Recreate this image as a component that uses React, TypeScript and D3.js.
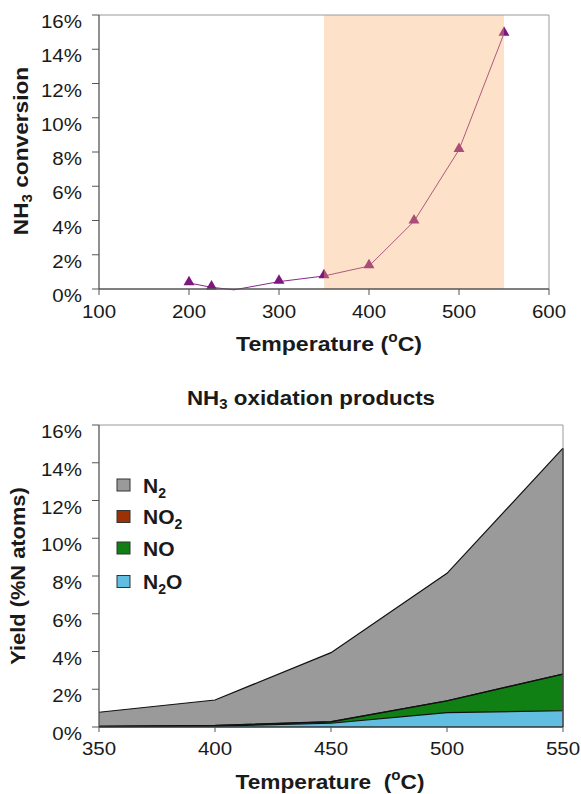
import React from "react";
import * as d3 from "d3";

// NH3 conversion vs temperature (upper panel)
const convTemps = [200, 225, 250, 300, 350, 400, 450, 500, 550];
const convValues = [0.35, 0.1, -0.05, 0.43, 0.76, 1.34, 3.95, 8.13, 14.92];
const convXTicks = [100, 200, 300, 400, 500, 600];
const pctTicks = [0, 2, 4, 6, 8, 10, 12, 14, 16];
const windowRange = [350, 550];

// Oxidation product yields (lower panel), % N atoms
const prodTemps = [350, 400, 450, 500, 550];
const n2oYield = [0.02, 0.05, 0.2, 0.76, 0.86];
const noYield = [0.01, 0.03, 0.07, 0.62, 1.94];
const no2Yield = [0.01, 0.01, 0.01, 0.01, 0.01];
const n2Yield = [0.74, 1.34, 3.66, 6.75, 11.96];
const prodXTicks = [350, 400, 450, 500, 550];

const FONT = "'Liberation Sans', Arial, Helvetica, sans-serif";
const INK = "#1a1a1a";

const seriesKeys = ["N2O", "NO", "NO2", "N2"];
const seriesColors: Record<string, string> = {
  N2O: "#62bee1",
  NO: "#108014",
  NO2: "#9a3205",
  N2: "#9a9a9a",
};

type TProps = {
  x: number;
  y: number;
  size: number;
  anchor?: string;
  bold?: boolean;
  sx?: number;
  rotate?: number;
  children: React.ReactNode;
};

function T({ x, y, size, anchor = "start", bold = false, sx = 1, rotate = 0, children }: TProps) {
  return (
    <text
      transform={`translate(${x},${y}) rotate(${rotate}) scale(${sx},1)`}
      fontFamily={FONT}
      fontSize={size}
      fontWeight={bold ? "bold" : "normal"}
      textAnchor={anchor}
      fill={INK}
    >
      {children}
    </text>
  );
}

export default function App() {
  // upper panel scales
  const xT = d3.scaleLinear().domain([100, 600]).range([99, 549]);
  const yT = d3.scaleLinear().domain([0, 16]).range([289, 15]);

  // lower panel scales
  const xB = d3.scaleLinear().domain([350, 550]).range([99, 563]);
  const yB = d3.scaleLinear().domain([0, 16]).range([727, 425]);

  const convPts = convTemps.map((t, i) => ({ t, v: convValues[i] }));
  const convLine = d3
    .line<{ t: number; v: number }>()
    .x((d) => xT(d.t))
    .y((d) => yT(d.v))(convPts) as string;

  const tri = d3.symbol().type(d3.symbolTriangle).size(52)() as string;

  const rows = prodTemps.map((t, i) => ({
    t,
    N2O: n2oYield[i],
    NO: noYield[i],
    NO2: no2Yield[i],
    N2: n2Yield[i],
  }));
  const stacked = d3.stack<any>().keys(seriesKeys)(rows);
  const area = d3
    .area<any>()
    .x((d) => xB(d.data.t))
    .y0((d) => yB(d[0]))
    .y1((d) => yB(d[1]));
  const topLine = d3
    .line<any>()
    .x((d) => xB(d.data.t))
    .y((d) => yB(d[1]));

  const legendItems = [
    { key: "N2", label: "N", sub: "2", tail: "" },
    { key: "NO2", label: "NO", sub: "2", tail: "" },
    { key: "NO", label: "NO", sub: "", tail: "" },
    { key: "N2O", label: "N", sub: "2", tail: "O" },
  ];
  const legendY = [485, 516.5, 548, 581.5];

  return (
    <svg
      width={581}
      height={794}
      style={{ display: "block", position: "absolute", left: 0, top: 0 }}
    >
      {/* ---------- upper panel ---------- */}
      <path d={convLine} fill="none" stroke="#862a8a" strokeWidth={1} />
      {convPts
        .filter((d) => d.v >= 0 && d.v <= 16)
        .map((d, i) => (
          <path
            key={i}
            d={tri}
            transform={`translate(${xT(d.t)},${yT(d.v) - 1})`}
            fill="#7e167f"
          />
        ))}
      <rect
        x={xT(windowRange[0])}
        y={yT(16)}
        width={xT(windowRange[1]) - xT(windowRange[0])}
        height={yT(0) - yT(16)}
        fill="rgb(249,176,104)"
        fillOpacity={0.36}
      />
      {/* frame */}
      <line x1={xT(100)} x2={xT(600)} y1={yT(16)} y2={yT(16)} stroke="#9a9a9a" />
      <line x1={xT(600)} x2={xT(600)} y1={yT(16)} y2={yT(0)} stroke="#9a9a9a" />
      <line x1={xT(100)} x2={xT(100)} y1={yT(16)} y2={yT(0)} stroke="#555" strokeWidth={1.3} />
      <line x1={xT(100)} x2={xT(600)} y1={yT(0)} y2={yT(0)} stroke="#555" strokeWidth={1.3} />
      {pctTicks.map((v) => (
        <g key={"ty" + v}>
          <line x1={xT(100) - 7} x2={xT(100)} y1={yT(v)} y2={yT(v)} stroke="#555" />
          <T x={82} y={yT(v) + 13} size={18} anchor="end" sx={1.14}>
            {v}%
          </T>
        </g>
      ))}
      {convXTicks.map((v) => (
        <g key={"tx" + v}>
          <line x1={xT(v)} x2={xT(v)} y1={yT(0)} y2={yT(0) + 6} stroke="#555" />
          <T x={xT(v)} y={318} size={18} anchor="middle" sx={1.14}>
            {v}
          </T>
        </g>
      ))}
      <T x={28} y={151} size={21} bold anchor="middle" rotate={-90} sx={1.08}>
        NH
        <tspan fontSize={14} dy={4}>
          3
        </tspan>
        <tspan dy={-4}> conversion</tspan>
      </T>
      <T x={329} y={351} size={21} bold anchor="middle" sx={1.1}>
        Temperature (
        <tspan fontSize={14} dy={-9}>
          o
        </tspan>
        <tspan dy={9}>C)</tspan>
      </T>

      {/* ---------- lower panel ---------- */}
      <T x={311} y={405} size={21} bold anchor="middle" sx={1.065}>
        NH
        <tspan fontSize={14} dy={4}>
          3
        </tspan>
        <tspan dy={-4}> oxidation products</tspan>
      </T>
      {stacked.map((s) => (
        <path key={s.key} d={area(s) as string} fill={seriesColors[s.key]} />
      ))}
      {stacked.map((s) => (
        <path
          key={"l" + s.key}
          d={topLine(s) as string}
          fill="none"
          stroke="#111"
          strokeWidth={1.2}
        />
      ))}
      <line x1={xB(550)} x2={xB(550)} y1={yB(16)} y2={yB(0)} stroke="#9a9a9a" />
      <line
        x1={xB(550)}
        x2={xB(550)}
        y1={yB(stacked[stacked.length - 1][4][1])}
        y2={yB(0)}
        stroke="#333"
        strokeWidth={1.3}
      />
      <line x1={xB(350)} x2={xB(550)} y1={yB(16)} y2={yB(16)} stroke="#9a9a9a" />
      <line x1={xB(350)} x2={xB(350)} y1={yB(16)} y2={yB(0)} stroke="#555" strokeWidth={1.3} />
      <line x1={xB(350)} x2={xB(550)} y1={yB(0)} y2={yB(0)} stroke="#333" strokeWidth={1.5} />
      {pctTicks.map((v) => (
        <g key={"by" + v}>
          <line x1={xB(350) - 7} x2={xB(350)} y1={yB(v)} y2={yB(v)} stroke="#555" />
          <T x={82} y={yB(v) + 13} size={18} anchor="end" sx={1.14}>
            {v}%
          </T>
        </g>
      ))}
      {prodXTicks.map((v) => (
        <g key={"bx" + v}>
          <line x1={xB(v)} x2={xB(v)} y1={yB(0)} y2={yB(0) + 5} stroke="#555" />
          <T x={xB(v)} y={755} size={18} anchor="middle" sx={1.14}>
            {v}
          </T>
        </g>
      ))}
      <T x={25} y={576} size={21} bold anchor="middle" rotate={-90} sx={1.04}>
        Yield (%N atoms)
      </T>
      <T x={330} y={789} size={21} bold anchor="middle" sx={1.08}>
        Temperature{"\u00a0\u00a0"}(
        <tspan fontSize={14} dy={-9}>
          o
        </tspan>
        <tspan dy={9}>C)</tspan>
      </T>

      {/* legend */}
      {legendItems.map((it, i) => (
        <g key={it.key}>
          <rect
            x={117}
            y={legendY[i] - 6}
            width={13}
            height={12}
            fill={seriesColors[it.key]}
            stroke="#333"
            strokeWidth={1}
          />
          <T x={143} y={legendY[i] + 7.5} size={21} bold>
            {it.label}
            {it.sub && (
              <tspan fontSize={14} dy={5}>
                {it.sub}
              </tspan>
            )}
            {it.sub && <tspan dy={-5}>{it.tail}</tspan>}
          </T>
        </g>
      ))}
    </svg>
  );
}
